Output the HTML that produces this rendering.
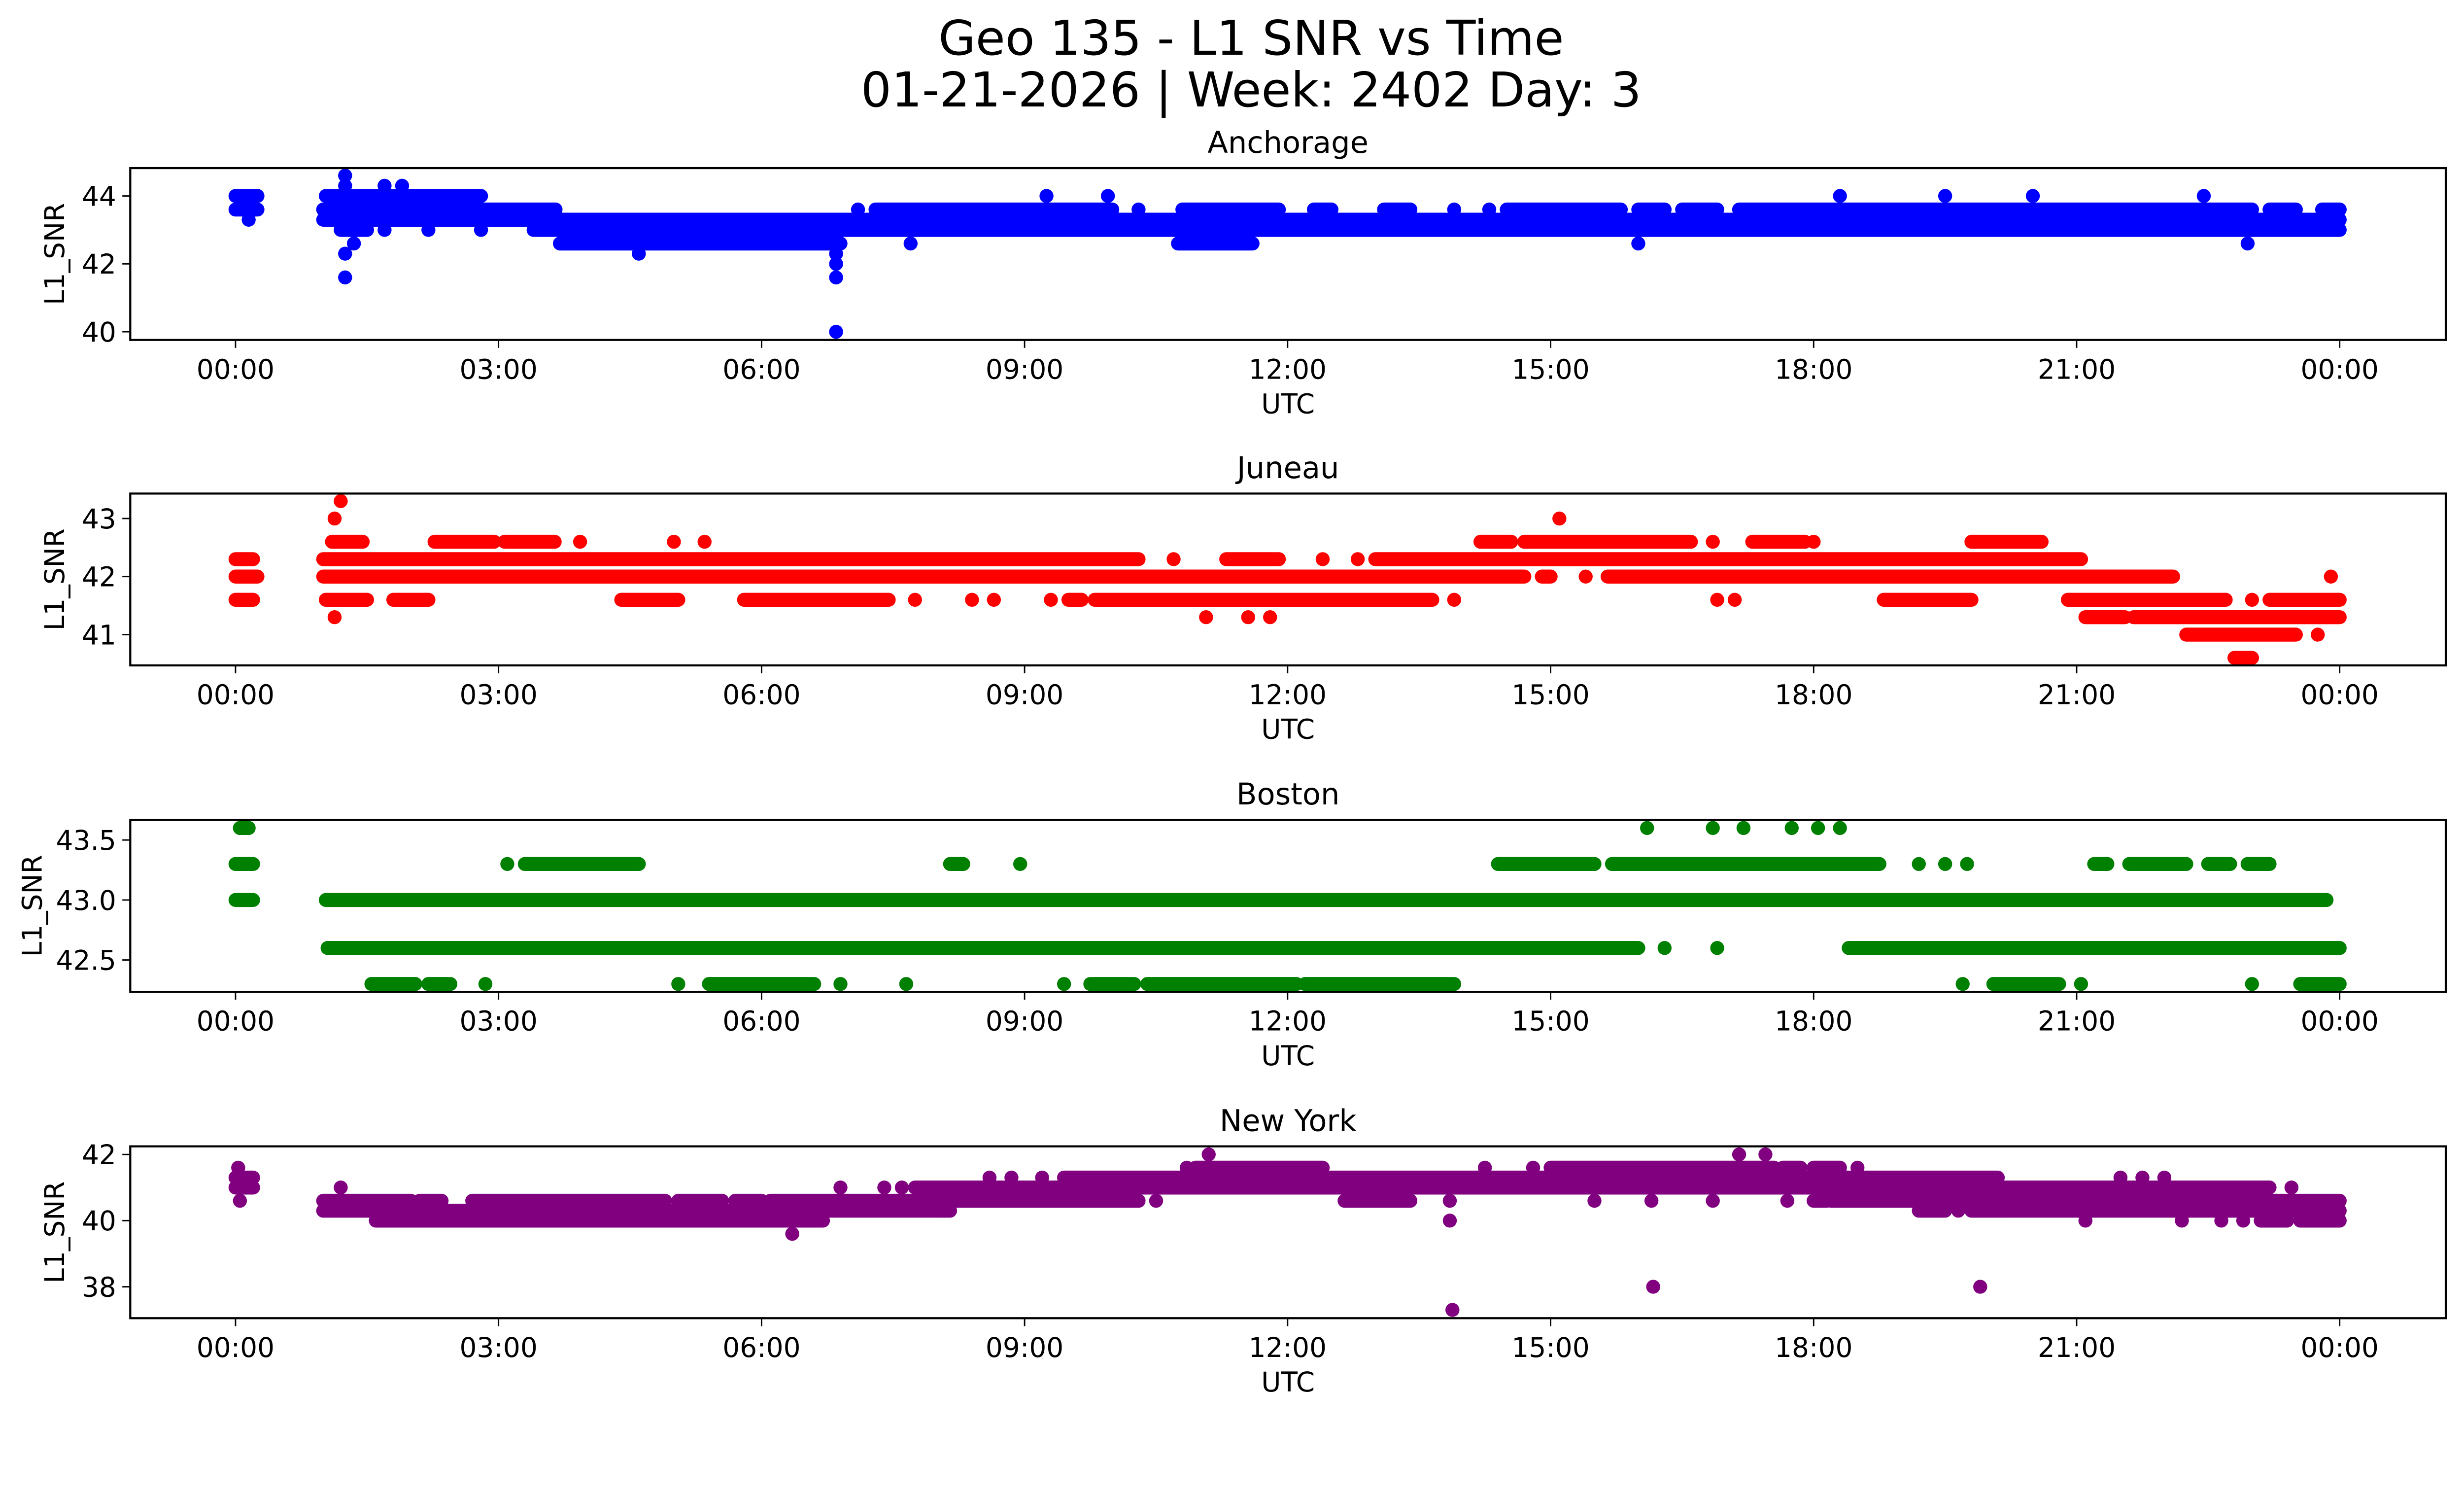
<!DOCTYPE html>
<html><head><meta charset="utf-8"><style>
html,body{margin:0;padding:0;background:#fff;overflow:hidden;}
svg{display:block;width:100vw;height:calc(100vw * 3033 / 5278);font-family:"DejaVu Sans","Liberation Sans",sans-serif;}
</style></head><body>
<svg id="fig" xmlns="http://www.w3.org/2000/svg" viewBox="0 0 5278 3033" preserveAspectRatio="xMidYMin meet">
<rect width="5278" height="3033" fill="#fff"/>
<text x="2680" y="117" font-size="103" text-anchor="middle">Geo 135 - L1 SNR vs Time</text>
<text x="2680" y="228" font-size="103" text-anchor="middle">01-21-2026 | Week: 2402 Day: 3</text>
<g id="plots"></g>
</svg>
<script>
const xTickHours = [0,3,6,9,12,15,18,21,24];
const xTickLabels = ["00:00","03:00","06:00","09:00","12:00","15:00","18:00","21:00","00:00"];
const panelTitles = ["Anchorage","Juneau","Boston","New York"];
const panelColors = ["#0000ff","#ff0000","#008000","#800080"];
const yLimits = [[39.76,44.82],[40.47,43.43],[42.235,43.667],[37.05,42.245]];
const yTickValues = [[40,42,44],[41,42,43],[42.5,43.0,43.5],[38,40,42]];
const yTickLabels = [["40","42","44"],["41","42","43"],["42.5","43.0","43.5"],["38","40","42"]];
// runs: [startHour, endHour, SNR]
const anchorageRuns = [
[0,0.25,44],[0,0.25,43.6],[0.15,0.15,43.3],
[1.25,1.25,44.6],[1.25,1.25,44.3],[1.7,1.7,44.3],[1.9,1.9,44.3],
[1.03,2.8,44],[1.0,3.65,43.6],[1.0,24.0,43.3],
[1.2,1.5,43.0],[1.7,1.7,43.0],[2.2,2.2,43.0],[2.8,2.8,43.0],[3.4,24.0,43.0],
[1.35,1.35,42.6],[3.7,6.9,42.6],[7.7,7.7,42.6],[10.75,11.6,42.6],[16.0,16.0,42.6],[22.95,22.95,42.6],
[1.25,1.25,42.3],[4.6,4.6,42.3],[6.85,6.85,42.3],[6.85,6.85,42.0],[1.25,1.25,41.6],[6.85,6.85,41.6],[6.85,6.85,40.0],
[7.1,7.1,43.6],[7.3,10.0,43.6],[10.3,10.3,43.6],[10.8,11.9,43.6],[12.3,12.5,43.6],[13.1,13.4,43.6],[13.9,13.9,43.6],[14.3,14.3,43.6],[14.5,15.8,43.6],[16.0,16.3,43.6],[16.5,16.9,43.6],[17.15,23.0,43.6],[23.2,23.5,43.6],[23.8,24.0,43.6],
[9.25,9.25,44],[9.95,9.95,44],[18.3,18.3,44],[19.5,19.5,44],[20.5,20.5,44],[22.45,22.45,44]
];
const juneauRuns = [
[1.2,1.2,43.3],[1.13,1.13,43.0],[15.1,15.1,43.0],
[1.1,1.45,42.6],[2.27,2.95,42.6],[3.07,3.64,42.6],[3.93,3.93,42.6],[5.0,5.0,42.6],[5.35,5.35,42.6],[14.2,14.55,42.6],[14.7,16.6,42.6],[16.85,16.85,42.6],[17.3,17.9,42.6],[18.0,18.0,42.6],[19.8,20.6,42.6],
[0,0.2,42.3],[1.0,10.3,42.3],[10.7,10.7,42.3],[11.3,11.9,42.3],[12.4,12.4,42.3],[12.8,12.8,42.3],[13.0,21.05,42.3],
[0,0.25,42.0],[1.0,14.7,42.0],[14.9,15.0,42.0],[15.4,15.4,42.0],[15.65,22.1,42.0],[23.9,23.9,42.0],
[0,0.2,41.6],[1.03,1.5,41.6],[1.8,2.2,41.6],[4.4,5.05,41.6],[5.8,7.45,41.6],[7.75,7.75,41.6],[8.4,8.4,41.6],[8.65,8.65,41.6],[9.3,9.3,41.6],[9.5,9.65,41.6],[9.8,13.65,41.6],[13.9,13.9,41.6],[16.9,16.9,41.6],[17.1,17.1,41.6],[18.8,19.8,41.6],[20.9,22.7,41.6],[23.0,23.0,41.6],[23.2,24.0,41.6],
[1.13,1.13,41.3],[11.07,11.07,41.3],[11.55,11.55,41.3],[11.8,11.8,41.3],[21.1,21.55,41.3],[21.65,24.0,41.3],
[22.25,23.5,41.0],[23.75,23.75,41.0],[22.8,23.0,40.6]
];
const bostonRuns = [
[0.05,0.15,43.6],[16.1,16.1,43.6],[16.85,16.85,43.6],[17.2,17.2,43.6],[17.75,17.75,43.6],[18.05,18.05,43.6],[18.3,18.3,43.6],
[0,0.2,43.3],[3.1,3.1,43.3],[3.3,4.6,43.3],[8.15,8.3,43.3],[8.95,8.95,43.3],[14.4,15.5,43.3],[15.7,18.75,43.3],[19.2,19.2,43.3],[19.5,19.5,43.3],[19.75,19.75,43.3],[21.2,21.35,43.3],[21.6,22.25,43.3],[22.5,22.75,43.3],[22.95,23.2,43.3],
[0,0.2,43.0],[1.03,23.85,43.0],
[1.05,16.0,42.6],[16.3,16.3,42.6],[16.9,16.9,42.6],[18.4,24.0,42.6],
[1.55,2.05,42.3],[2.2,2.45,42.3],[2.85,2.85,42.3],[5.05,5.05,42.3],[5.4,6.6,42.3],[6.9,6.9,42.3],[7.65,7.65,42.3],[9.45,9.45,42.3],[9.75,10.25,42.3],[10.4,12.1,42.3],[12.2,13.9,42.3],[19.7,19.7,42.3],[20.05,20.8,42.3],[21.05,21.05,42.3],[23.0,23.0,42.3],[23.55,24.0,42.3]
];
const newYorkRuns = [
[11.1,11.1,42.0],[17.15,17.15,42.0],[17.45,17.45,42.0],
[0.03,0.03,41.6],[10.85,10.85,41.6],[10.95,12.4,41.6],[14.25,14.25,41.6],[14.8,14.8,41.6],[15.0,17.55,41.6],[17.65,17.85,41.6],[18.0,18.3,41.6],[18.5,18.5,41.6],
[0,0.2,41.3],[8.6,8.6,41.3],[8.85,8.85,41.3],[9.2,9.2,41.3],[9.45,20.1,41.3],[21.5,21.5,41.3],[21.75,21.75,41.3],[22.0,22.0,41.3],
[0,0.2,41.0],[1.2,1.2,41.0],[6.9,6.9,41.0],[7.4,7.4,41.0],[7.6,7.6,41.0],[7.75,23.2,41.0],[23.45,23.45,41.0],
[0.05,0.05,40.6],[1.0,2.0,40.6],[2.1,2.35,40.6],[2.7,4.9,40.6],[5.05,5.55,40.6],[5.7,6.0,40.6],[6.1,10.3,40.6],[10.5,10.5,40.6],[12.65,13.4,40.6],[13.85,13.85,40.6],[15.5,15.5,40.6],[16.15,16.15,40.6],[16.85,16.85,40.6],[17.7,17.7,40.6],[18.0,18.15,40.6],[18.2,24.0,40.6],
[1.0,8.15,40.3],[19.2,19.5,40.3],[19.65,19.65,40.3],[19.8,24.0,40.3],
[1.6,6.7,40.0],[13.85,13.85,40.0],[21.1,21.1,40.0],[22.2,22.2,40.0],[22.65,22.65,40.0],[22.9,22.9,40.0],[23.1,23.4,40.0],[23.55,24.0,40.0],
[6.35,6.35,39.6],[16.17,16.17,38.0],[19.9,19.9,38.0],[13.88,13.88,37.3]
];
const panelRuns = [anchorageRuns, juneauRuns, bostonRuns, newYorkRuns];

const NS = "http://www.w3.org/2000/svg";
const AX_L = 279, AX_R = 5239, AX_H = 368;
const axTops = [360, 1057, 1756, 2455];
const yLabelX = [117, 117, 69, 117];
const X0 = 504.5, PXH = 187.8;
function xScale(h){ return X0 + h*PXH; }
function mk(tag, attrs, parent){ const e=document.createElementNS(NS,tag); for(const k in attrs) e.setAttribute(k,attrs[k]); parent.appendChild(e); return e; }
const root = document.getElementById('plots');
panelTitles.forEach((title, p) => {
  const top = axTops[p], bot = top + AX_H;
  const [y0,y1] = yLimits[p];
  const yScale = v => bot - (v - y0)/(y1 - y0)*AX_H;
  const g = mk('g', {}, root);
  
  
  const clipId = 'clip'+p;
  const cp = mk('clipPath', {id: clipId}, g);
  mk('rect', {x:AX_L, y:top, width:AX_R-AX_L, height:AX_H}, cp);
  const marks = mk('g', {'clip-path':'url(#'+clipId+')', fill: panelColors[p], stroke: panelColors[p]}, g);
  
  
  panelRuns[p].forEach(r => {
    const xa = xScale(r[0]), xb = xScale(r[1]), y = yScale(r[2]);
    let el;
    if (r[1] - r[0] < 0.001) {
      el = mk('circle', {cx: xa, cy: y, r: 15, stroke: 'none'}, marks);
    } else {
      el = mk('line', {x1: xa, y1: y, x2: xb, y2: y, 'stroke-width': 30, 'stroke-linecap': 'round'}, marks);
    }
    
    
  });
  const frame = mk('rect', {x:AX_L, y:top, width:AX_R-AX_L, height:AX_H, fill:'none', stroke:'#000', 'stroke-width':4.5}, g);
  
  
  xTickHours.forEach((h,i) => {
    const x = xScale(h);
    mk('line', {x1:x, y1:bot, x2:x, y2:bot+17, stroke:'#000', 'stroke-width':3}, g);
    const t = mk('text', {x:x, y:bot+83, 'font-size':58, 'text-anchor':'middle'}, g);
    t.textContent = xTickLabels[i];
    
    
  });
  yTickValues[p].forEach((v,i) => {
    const y = yScale(v);
    mk('line', {x1:AX_L-17, y1:y, x2:AX_L, y2:y, stroke:'#000', 'stroke-width':3}, g);
    const t = mk('text', {x:AX_L-30, y:y+21, 'font-size':58, 'text-anchor':'end'}, g);
    t.textContent = yTickLabels[p][i];
    
    
  });
  const tt = mk('text', {x:(AX_L+AX_R)/2, y:top-33, 'font-size':64, 'text-anchor':'middle'}, g);
  tt.textContent = title;
  
  
  const xl = mk('text', {x:(AX_L+AX_R)/2, y:bot+157, 'font-size':58, 'text-anchor':'middle'}, g);
  xl.textContent = 'UTC';
  
  
  const cy = top + AX_H/2;
  const yl = mk('text', {x:yLabelX[p], y:cy, 'font-size':58, 'text-anchor':'middle', 'dominant-baseline':'central', transform:'rotate(-90 '+yLabelX[p]+' '+cy+')'}, g);
  yl.textContent = 'L1_SNR';
  
  
});
</script>
</body></html>
